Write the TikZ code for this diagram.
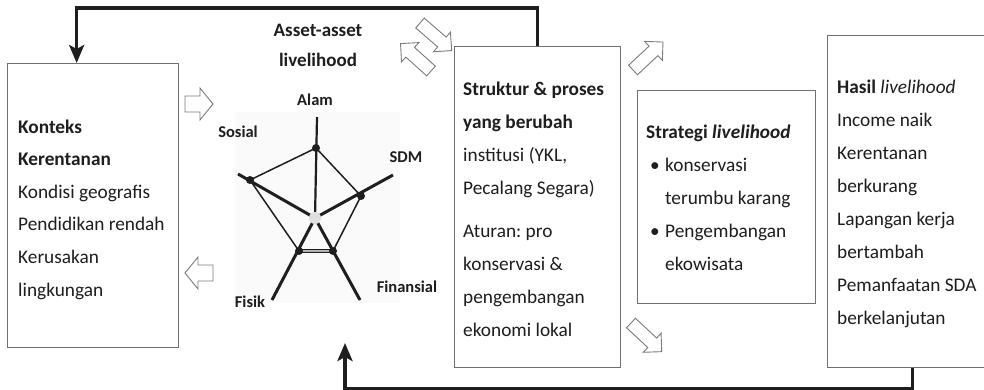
\documentclass[tikz,border=0pt]{standalone}
\usepackage{fontspec}
\setmainfont{Carlito}
\usetikzlibrary{arrows.meta}
\frenchspacing
\definecolor{txt}{HTML}{1E1E1E}
\definecolor{boxc}{HTML}{707070}
\definecolor{harc}{HTML}{7A7A7A}
\tikzset{
 box/.style={draw=boxc, line width=1.3pt, inner sep=0pt, anchor=north west},
 body/.style={font=\fontsize{19.3}{33}\selectfont, text=txt, inner sep=0pt, anchor=base west, align=left},
 plab/.style={font=\fontsize{16.5}{20}\selectfont\bfseries, text=txt, inner sep=0pt},
 fb/.style={line width=3.4pt, draw=txt, -{Stealth[length=18pt,width=15pt,inset=4pt]}},
 hollow/.style={draw=harc, line width=0.9pt, fill=white, line join=miter},
 axisthick/.style={line width=3pt, draw=txt},
 pedge/.style={line width=1.5pt, draw=txt},
 pdot/.style={circle, fill=txt, inner sep=0pt, minimum size=8pt},
}
\newcommand\harrow[7]{%
 \begin{scope}[shift={(#1,#2)},rotate=#3]
 \draw[hollow] (0,-#5) -- ({#4-#7},-#5) -- ({#4-#7},-#6) -- (#4,0) -- ({#4-#7},#6) -- ({#4-#7},#5) -- (0,#5) -- cycle;
 \end{scope}}
\begin{document}
\begin{tikzpicture}[x=1pt,y=-1pt]
\useasboundingbox (0,0) rectangle (984,389);
\fill[white] (0,0) rectangle (984,389);
% boxes
\node[box, minimum width=171pt, minimum height=284pt] (konteks) at (7,63) {};
\node[box, minimum width=166pt, minimum height=321pt] (struktur) at (454,46) {};
\node[box, minimum width=178pt, minimum height=213pt] (strategi) at (637,90) {};
\node[box, minimum width=159pt, minimum height=332pt] (hasil) at (827,35) {};
% texts (anchor = baseline of the last line)
\node[body, font=\fontsize{19.3}{32.6}\selectfont] (tkonteks) at (18,296) {\textbf{Konteks}\\ \textbf{Kerentanan}\\ Kondisi geografis\\ Pendidikan rendah\\ Kerusakan\\ lingkungan};
\node[body] (tstruktur) at (463,336) {\textbf{Struktur \& proses}\\ \textbf{yang berubah}\\ institusi (YKL,\\ Pecalang Segara)\\[10pt] Aturan: pro\\ konservasi \&\\ pengembangan\\ ekonomi lokal};
\node[body] (tstrategi) at (646,270) {\textbf{Strategi \textit{livelihood}}\\ \hspace*{4pt}\makebox[15pt][l]{•}konservasi\\ \hspace*{19pt}terumbu karang\\ \hspace*{4pt}\makebox[15pt][l]{•}Pengembangan\\ \hspace*{19pt}ekowisata};
\node[body] (thasil) at (837,324) {\textbf{Hasil} \textit{livelihood}\\ Income naik\\ Kerentanan\\ berkurang\\ Lapangan kerja\\ bertambah\\ Pemanfaatan SDA\\ berkelanjutan};
\node[font=\fontsize{19}{30}\selectfont\bfseries, text=txt, inner sep=0pt, align=center, anchor=base] (title) at (318,66) {Asset-asset\\ livelihood};
% feedback connectors
\draw[fb] (struktur.north) -- ++(0,-38) -| ([xshift=-16.5pt]konteks.north);
\coordinate (pentabase) at (345,343);
\draw[fb] ([xshift=5.5pt]hasil.south) -- ++(0,20) -| (pentabase);
% hollow block arrows
\harrow{185}{104}{0}{28}{8}{16}{13}
\harrow{213}{273}{180}{28}{8}{16}{13}
\harrow{420}{23}{-41}{42}{6.5}{13}{13}
\harrow{431}{71}{138}{41}{6.5}{13}{13}
\harrow{633}{70}{43}{41}{6.5}{13}{13}
\harrow{631}{323}{-43}{42}{6.5}{13}{13}
% pentagon chart
\fill[black!2] (235,112) rectangle (400,303);
\coordinate (C) at (315,218);
\coordinate (eA) at (317,117);
\coordinate (eD) at (393,175);
\coordinate (eF) at (360,300);
\coordinate (eK) at (272,300);
\coordinate (eS) at (238,174);
\coordinate (pA) at (316,148);
\coordinate (pD) at (361,196);
\coordinate (pF) at (333,251);
\coordinate (pK) at (299,251);
\coordinate (pS) at (250,180);
\draw[pedge] (pK) -- (pS) -- (pA) -- (pD) -- (pF);
\draw[line width=0.9pt, draw=txt, double=gray!60, double distance=1.4pt] (pK) -- (pF);
\draw[line width=2.2pt, draw=txt] (C) -- (eA);
\draw[axisthick] (C) -- (eD);
\draw[axisthick] (C) -- (eF);
\draw[axisthick] (C) -- (eK);
\draw[axisthick] (C) -- (eS);
\fill[black!12] (C) circle (6pt);
\foreach \p in {pA,pD,pF,pK,pS} \node[pdot] at (\p) {};
\node[plab] (lA) at (315,100) {Alam};
\node[plab] (lS) at (238,132) {Sosial};
\node[plab] (lD) at (406,157) {SDM};
\node[plab] (lF) at (407,287) {Finansial};
\node[plab] (lK) at (250,302) {Fisik};
\end{tikzpicture}
\end{document}
